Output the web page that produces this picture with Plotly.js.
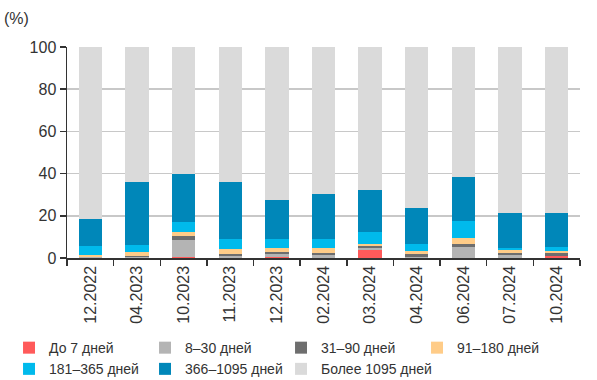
<!DOCTYPE html>
<html>
<head>
<meta charset="utf-8">
<script src="https://cdn.plot.ly/plotly-3.0.1.min.js"></script>
<style>html,body{margin:0;padding:0;background:#fff;}#chart{width:597px;height:380px;}</style>
</head>
<body>
<div id="chart"></div>
<script>
const categories = ["12.2022","04.2023","10.2023","11.2023","12.2023","02.2024","03.2024","04.2024","06.2024","07.2024","10.2024"];
const seriesNames = ["До 7 дней","8–30 дней","31–90 дней","91–180 дней","181–365 дней","366–1095 дней","Более 1095 дней"];
const d0_7     = [0.0, 0.0, 0.6, 0.0, 0.7, 0.2, 3.7, 0.0, 0.0, 0.0, 0.8];
const d8_30    = [0.3, 0.5, 8.0, 1.0, 1.2, 1.2, 1.0, 0.7, 5.4, 1.2, 0.0];
const d31_90   = [0.3, 0.5, 2.0, 1.0, 1.0, 1.0, 0.8, 1.2, 1.3, 1.0, 1.6];
const d91_180  = [1.0, 1.7, 1.6, 2.1, 1.9, 2.2, 1.2, 1.4, 2.7, 1.4, 0.9];
const d181_365 = [4.3, 3.5, 4.9, 4.9, 4.4, 4.4, 5.5, 3.2, 8.2, 1.3, 1.8];
const d366_1095= [12.4, 29.8, 22.9, 27.0, 18.1, 21.1, 20.1, 17.4, 21.0, 16.4, 16.4];
const dOver1095 = categories.map((c, i) => 100 - (d0_7[i] + d8_30[i] + d31_90[i] + d91_180[i] + d181_365[i] + d366_1095[i]));
const yTicks = [0, 20, 40, 60, 80, 100];

const colors = ["#FF5A5A", "#B4B4B4", "#6E6E6E", "#FFCC88", "#00BAEC", "#0087B9", "#DADADA"];
const allSeries = [d0_7, d8_30, d31_90, d91_180, d181_365, d366_1095, dOver1095];

const traces = allSeries.map((vals, k) => ({
  type: "bar",
  name: seriesNames[k],
  x: categories,
  y: vals,
  marker: { color: colors[k], line: { width: 0 } },
  hoverinfo: "skip"
}));

const layout = {
  width: 597, height: 380,
  margin: { l: 67, r: 17, t: 47, b: 122, autoexpand: false },
  barmode: "stack",
  bargap: 0.5,
  paper_bgcolor: "#fff",
  plot_bgcolor: "#fff",
  font: { family: "Liberation Sans, Arial, sans-serif", size: 15, color: "#333" },
  xaxis: {
    type: "category",
    automargin: false,
    showline: true, linecolor: "#333", linewidth: 1.5,
    ticks: "outside", tickson: "boundaries", ticklen: 6, tickcolor: "#333", tickwidth: 1.5,
    tickangle: -90,
    tickfont: { size: 16, color: "#333" },
    showgrid: false, zeroline: false,
    fixedrange: true
  },
  yaxis: {
    range: [0, 100],
    automargin: false,
    tickvals: yTicks,
    showline: true, linecolor: "#333", linewidth: 1.5,
    ticks: "outside", ticklen: 6, tickcolor: "#333", tickwidth: 1.5,
    tickfont: { size: 16, color: "#333" },
    showgrid: true, gridcolor: "#C8C8C8", gridwidth: 1.5,
    zeroline: false,
    fixedrange: true
  },
  showlegend: true,
  legend: {
    orientation: "h",
    x: -0.113, xanchor: "left",
    y: -0.351, yanchor: "top",
    entrywidth: 91, entrywidthmode: "pixels",
    traceorder: "normal",
    font: { size: 14, color: "#333" },
    itemwidth: 30,
    bgcolor: "rgba(0,0,0,0)"
  },
  annotations: [{
    text: "(%)", xref: "paper", yref: "paper",
    x: -0.127, y: 1.137, xanchor: "left", yanchor: "middle",
    showarrow: false, font: { size: 16, color: "#333" }
  }]
};

Plotly.newPlot("chart", traces, layout, { displayModeBar: false, staticPlot: true });
</script>
</body>
</html>
